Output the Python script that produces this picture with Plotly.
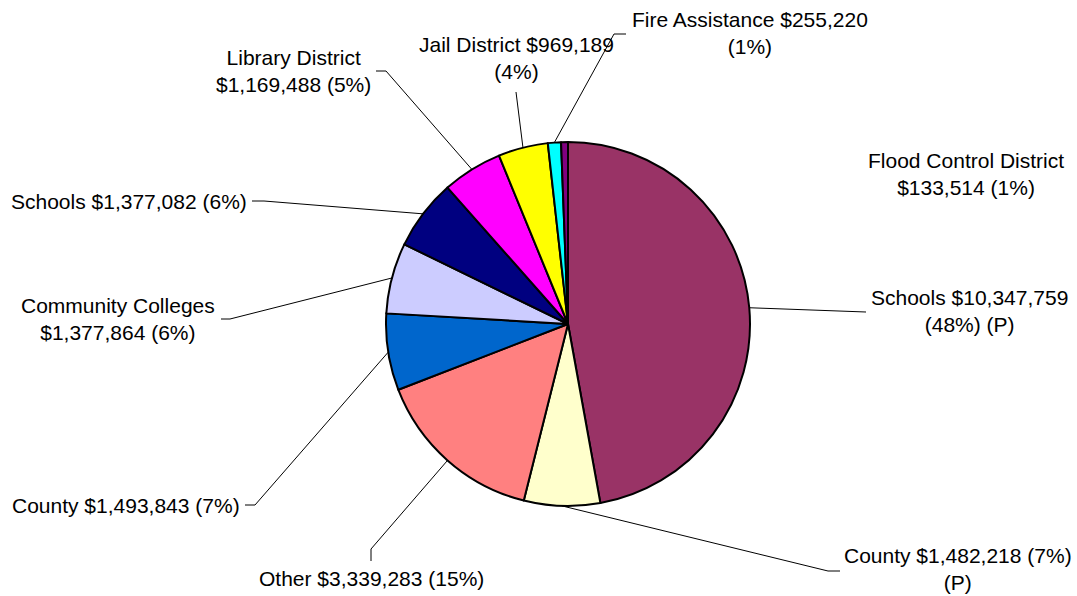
import math
import plotly.graph_objects as go

# ---- data ----
categories = ["Schools", "County", "Other", "County", "Community Colleges", "Schools",
              "Library District", "Jail District", "Fire Assistance", "Flood Control District"]
values = [10347759, 1482218, 3339283, 1493843, 1377864, 1377082, 1169488, 969189, 255220, 133514]
label_texts = [
    "Schools $10,347,759<br>(48%) (P)",
    "County $1,482,218 (7%)<br>(P)",
    "Other $3,339,283 (15%)",
    "County $1,493,843 (7%)",
    "Community Colleges<br>$1,377,864 (6%)",
    "Schools $1,377,082 (6%)",
    "Library District<br>$1,169,488 (5%)",
    "Jail District $969,189<br>(4%)",
    "Fire Assistance $255,220<br>(1%)",
    "Flood Control District<br>$133,514 (1%)",
]
colors = ["#993366", "#FFFFCC", "#FF8080", "#0066CC", "#CCCCFF",
          "#000080", "#FF00FF", "#FFFF00", "#00FFFF", "#800080"]

# ---- layout (pixels) ----
W, H = 1077, 596
CX, CY, R = 568, 324, 182
# label block centres
label_pos = [(969, 311), (958, 569), (371, 578), (126, 505), (118, 319),
             (129, 201), (293, 71), (516, 58), (750, 33), (966, 174)]
# leader line: elbow point, end point (None = no leader)
leader_pts = [
    [(866, 312)],
    [(828, 571), (840, 571)],
    [(371, 549), (371, 561)],
    [(255, 505), (245, 505)],
    [(230, 319), (221, 319)],
    [(264, 201), (252, 201)],
    [(386, 71), (376, 71)],
    [(516, 92)],
    [(614, 34), (626, 34)],
    None,
]


def px(x):
    return x / W


def py(y):
    return 1 - y / H


fig = go.Figure()
fig.add_trace(go.Pie(
    labels=[f"{c} {i}" for i, c in enumerate(categories)],
    values=values,
    sort=False,
    direction="clockwise",
    rotation=0,
    marker=dict(colors=colors, line=dict(color="#000000", width=2)),
    textinfo="none",
    hovertext=label_texts,
    hoverinfo="text",
    showlegend=False,
    domain=dict(x=[px(CX - R), px(CX + R)], y=[py(CY + R), py(CY - R)]),
))

total = sum(values)
cum = 0
shapes = []
annotations = []
for i, v in enumerate(values):
    mid = (cum + v / 2) / total
    cum += v
    ang = 2 * math.pi * mid
    ex = CX + R * math.sin(ang)
    ey = CY - R * math.cos(ang)
    pts = leader_pts[i]
    if pts:
        path = f"M {px(ex)},{py(ey)}" + "".join(f" L {px(a)},{py(b)}" for a, b in pts)
        shapes.append(dict(type="path", xref="paper", yref="paper", path=path,
                           line=dict(color="#000000", width=1), layer="above"))
    lx, ly = label_pos[i]
    annotations.append(dict(x=px(lx), y=py(ly), xref="paper", yref="paper",
                            text=label_texts[i], showarrow=False,
                            xanchor="center", yanchor="middle", align="center",
                            font=dict(family="Liberation Sans, Arial, sans-serif",
                                      size=21, color="#000000")))

fig.update_layout(
    width=W, height=H,
    margin=dict(l=0, r=0, t=0, b=0),
    paper_bgcolor="#FFFFFF",
    plot_bgcolor="#FFFFFF",
    shapes=shapes,
    annotations=annotations,
)

fig.write_html("out.html", config={"displayModeBar": False},
               post_script="document.body.style.margin='0';")
